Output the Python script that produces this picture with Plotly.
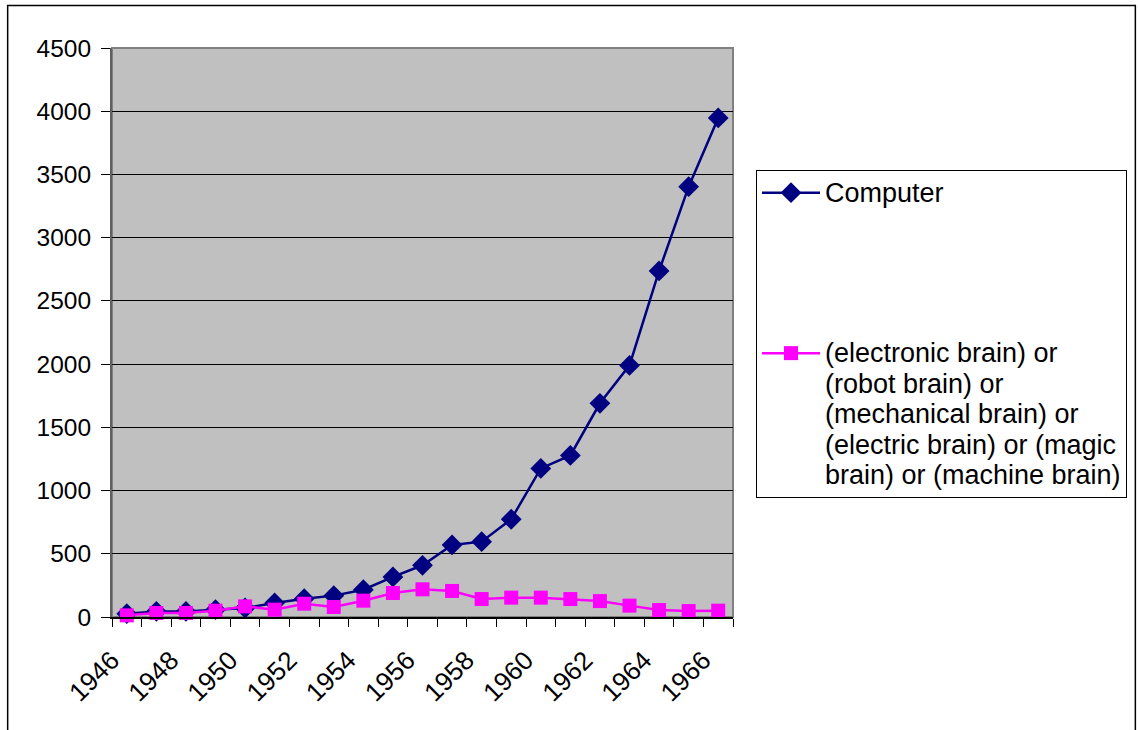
import plotly.graph_objects as go

years = list(range(1946, 1967))
computer = [26, 44, 44, 58, 71, 111, 145, 169, 216, 317, 409, 570, 596, 773,
            1175, 1278, 1690, 1990, 2737, 3403, 3947]
brain = [13, 32, 32, 50, 84, 58, 105, 79, 129, 190, 219, 206, 142, 153,
         153, 142, 126, 90, 55, 47, 50]
series_lines = [
    ["Computer"],
    ["(electronic brain) or", "(robot brain) or", "(mechanical brain) or",
     "(electric brain) or (magic", "brain) or (machine brain)"],
]
label_years = list(range(1946, 1967, 2))
y_ticks = list(range(0, 4501, 500))

W, H = 1138, 730
L, R, T, B = 112, 734, 48, 617
pw, ph = R - L, B - T

def px(x):
    return (x - L) / pw

def py(y):
    return (B - y) / ph

FONT = "Liberation Sans, Arial, sans-serif"

def legend_name(lines):
    return "<br>".join('<span style="font-size:27px">%s</span>' % s for s in lines)

fig = go.Figure()
fig.add_trace(go.Scatter(
    x=years, y=computer, name=legend_name(series_lines[0]), mode="lines+markers",
    line=dict(color="#000080", width=2.5),
    marker=dict(symbol="diamond", size=16, color="#000080"),
    legendgroup="a", cliponaxis=False,
))
fig.add_trace(go.Scatter(
    x=years, y=brain, name=legend_name(series_lines[1]), mode="lines+markers",
    line=dict(color="#FF00FF", width=2.5),
    marker=dict(symbol="square", size=14, color="#FF00FF"),
    legendgroup="b", cliponaxis=False,
))

fig.update_layout(
    width=W, height=H,
    margin=dict(l=L, r=W - R, t=T, b=H - B, pad=0),
    paper_bgcolor="white",
    plot_bgcolor="#C0C0C0",
    font=dict(family=FONT, size=24, color="black"),
    showlegend=True,
    legend=dict(
        x=px(756), y=py(170), xanchor="left", yanchor="top",
        bgcolor="white", bordercolor="black", borderwidth=1,
        font=dict(family=FONT, size=23.4, color="black"),
        traceorder="grouped", tracegroupgap=127, valign="top",
        itemwidth=58,
    ),
    xaxis=dict(
        range=[1945.5, 1966.5], tickmode="array", tickvals=label_years,
        ticktext=[str(v) for v in label_years], tickangle=-45,
        ticks="", showgrid=False, zeroline=False,
        showline=True, linecolor="black", linewidth=1.5,
        tickfont=dict(family=FONT, size=26, color="black"),
        ticklabelstandoff=16, ticklabelshift=-15,
        minor=dict(tick0=1945.5, dtick=1, ticks="outside", ticklen=8,
                   tickcolor="black", tickwidth=1, showgrid=False),
        fixedrange=True,
    ),
    yaxis=dict(
        range=[0, 4500], tickmode="array", tickvals=y_ticks,
        ticks="outside", ticklen=9, tickcolor="black", tickwidth=1,
        showgrid=True, gridcolor="black", gridwidth=1, zeroline=False,
        showline=True, linecolor="#606060", linewidth=2,
        tickfont=dict(family=FONT, size=24.5, color="black"),
        ticklabelstandoff=5,
        fixedrange=True,
    ),
    shapes=[
        dict(type="rect", xref="paper", yref="paper",
             x0=px(7.5), x1=px(1137), y0=py(745), y1=py(5.5),
             line=dict(color="black", width=1.5), fillcolor="rgba(0,0,0,0)",
             layer="above"),
        dict(type="rect", xref="paper", yref="paper",
             x0=0, x1=1, y0=0, y1=1,
             line=dict(color="#808080", width=2), fillcolor="rgba(0,0,0,0)",
             layer="below"),
    ],
)

fig.write_html("out.html")
